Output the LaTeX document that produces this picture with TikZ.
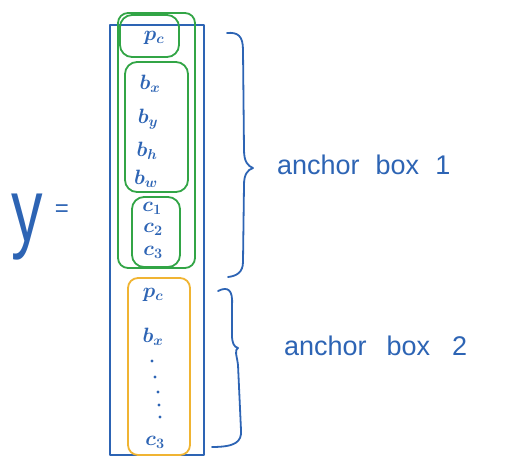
\documentclass[tikz,border=0pt]{standalone}
\usepackage{fontspec}
\setsansfont{Liberation Sans}
\definecolor{inkblue}{RGB}{45,100,180}
\definecolor{inkgreen}{RGB}{50,165,70}
\definecolor{inkorange}{RGB}{240,180,50}
\tikzset{
  ink/.style={line width=1.8pt, line cap=round, line join=round},
  lbl/.style={inkblue, inner sep=0pt, font=\fontsize{21}{21}\selectfont\boldmath},
  note/.style={inkblue, inner sep=0pt, anchor=west, font=\sffamily\fontsize{27}{27}\selectfont},
}
\begin{document}
\begin{tikzpicture}[x=1pt,y=-1pt]
\useasboundingbox (0,0) rectangle (531,461);
% y =
\node[inkblue, inner sep=0pt, font=\sffamily\fontsize{90}{90}\selectfont] (yvar) at (27,227) {\scalebox{0.7}[1]{y}};
\node[inkblue, inner sep=0pt, font=\sffamily\fontsize{24}{24}\selectfont] (eq) at (62,211) {=};
% outer blue vector
\draw[ink, inkblue] (110,25) rectangle (204,455);
% green anchor box 1
\draw[ink, inkgreen, rounded corners=10pt] (118,13) rectangle (195,268);
\draw[ink, inkgreen, rounded corners=12pt] (120,15) rectangle (179,57);
\draw[ink, inkgreen, rounded corners=12pt] (125,62) rectangle (188,192);
\draw[ink, inkgreen, rounded corners=12pt] (132,197) rectangle (180,267);
% orange anchor box 2
\draw[ink, inkorange, rounded corners=10pt] (128,278) rectangle (190,455);
% labels of box 1
\node[lbl] (pc1) at (154,38) {$p_c$};
\node[lbl] (bx1) at (150,84) {$b_x$};
\node[lbl] (by1) at (148,119) {$b_y$};
\node[lbl] (bh1) at (147,151) {$b_h$};
\node[lbl] (bw1) at (146,179) {$b_w$};
\node[lbl] (c11) at (152,208) {$c_1$};
\node[lbl] (c21) at (153,229) {$c_2$};
\node[lbl] (c31) at (153,252) {$c_3$};
% labels of box 2
\node[lbl] (pc2) at (153,295) {$p_c$};
\node[lbl] (bx2) at (153,337) {$b_x$};
\node[lbl] (c32) at (155,442) {$c_3$};
\foreach \px/\py in {152/361,155/377,158/392,159/405,160/417}
  \fill[inkblue] (\px,\py) circle (1.6pt);
% braces
\draw[ink, inkblue] (227,33) .. controls (238,32) and (243,36) .. (243,50)
  -- (244,150) .. controls (244,162) and (248,166) .. (253,168)
  .. controls (247,170) and (244,175) .. (244,185)
  -- (243,262) .. controls (243,272) and (237,276) .. (228,277);
\draw[ink, inkblue] (218,291) .. controls (228,286) and (233,290) .. (232,305)
  -- (232,335) .. controls (232,343) and (234,347) .. (238,348)
  .. controls (234,350) and (237,356) .. (238,365)
  -- (241,430) .. controls (242,442) and (235,447) .. (212,447);
% brace texts
\node[note] (ab1) at (277,165) {anchor\hspace{16pt}box\hspace{16pt}1};
\node[note] (ab2) at (284,346) {anchor\hspace{20pt}box\hspace{22pt}2};
\end{tikzpicture}
\end{document}
